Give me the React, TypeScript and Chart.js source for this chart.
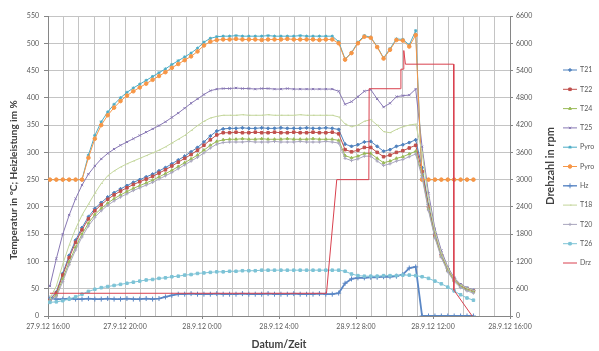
import React, { useEffect, useRef } from 'react';
import { Chart, registerables } from 'chart.js';
import { drawPoint } from 'chart.js/helpers';

Chart.register(...registerables);

// x axis: minutes after 27.9.12 16:00
const X_LABELS = ['27.9.12 16:00', '27.9.12 20:00', '28.9.12 0:00', '28.9.12 4:00', '28.9.12 8:00', '28.9.12 12:00', '28.9.12 16:00'];
const SAMPLE_START_MIN = 6;
const SAMPLE_STEP_MIN = 20;

const T21 = [31, 44, 78, 111, 139, 162, 182, 197, 208, 218, 226,
  233, 239, 245, 250, 255, 260, 266, 272, 279, 286,
  293, 301, 309, 319, 330, 339, 343, 344, 344, 345,
  344, 344, 345, 344, 344, 345, 344, 344, 344, 345,
  344, 344, 345, 344,
  342, 315, 311, 314, 319, 320, 311, 302, 305, 311, 314, 318, 323,
  272, 204, 151, 113, 87, 69, 57, 51, 47];
const T22 = [30, 42, 75, 107, 135, 158, 178, 193, 204, 214, 222,
  229, 235, 241, 246, 251, 256, 262, 268, 275, 282,
  289, 296, 304, 313, 323, 332, 336, 336, 337, 336,
  336, 337, 336, 336, 337, 336, 336, 337, 336, 336,
  337, 336, 336, 337,
  334, 305, 301, 304, 309, 309, 300, 292, 295, 300, 303, 308, 313,
  265, 200, 148, 111, 85, 67, 56, 50, 46];
const T24 = [29, 38, 68, 99, 126, 150, 170, 186, 197, 207, 215,
  222, 228, 234, 239, 244, 249, 255, 261, 267, 274,
  281, 288, 295, 304, 313, 320, 323, 324, 324, 325,
  324, 324, 325, 324, 324, 324, 325, 324, 324, 324,
  325, 324, 324, 324,
  322, 294, 290, 293, 298, 298, 289, 281, 284, 289, 292, 297, 302,
  258, 196, 145, 109, 83, 65, 54, 48, 44];
const T25 = [55, 105, 150, 185, 215, 240, 260, 275, 288, 298, 306,
  313, 319, 325, 331, 337, 343, 349, 356, 364, 372,
  381, 390, 398, 406, 413, 416, 417, 417, 418, 417,
  417, 416, 417, 417, 416, 416, 417, 416, 416, 416,
  416, 416, 416, 416,
  412, 388, 393, 402, 412, 415, 398, 383, 390, 402, 404, 405, 416,
  310, 225, 160, 120, 90, 70, 58, 52, 48];
const PYRO_TEAL = [250, 250, 250, 250, 250, 250,
  295, 331, 356, 374, 388,
  400, 410, 418, 425, 432, 439, 446, 453, 461, 468,
  475, 482, 491, 502, 509, 512, 513, 513, 514, 513,
  513, 513, 513, 514, 513, 513, 513, 513, 514, 513,
  513, 513, 513, 513,
  503, 471, 483, 502, 514, 511, 494, 473, 490, 508, 507, 497, 523,
  250, 250, 250, 250, 250, 250, 250, 250, 250];
const PYRO_ORANGE = [250, 250, 250, 250, 250, 250,
  290, 325, 350, 368, 382,
  394, 404, 412, 419, 426, 433, 440, 447, 455, 462,
  469, 476, 485, 496, 503, 506, 507, 507, 508, 507,
  507, 507, 506, 507, 507, 507, 508, 507, 507, 507,
  507, 506, 507, 507,
  500, 470, 482, 500, 512, 510, 493, 472, 488, 506, 505, 494, 515,
  250, 250, 250, 250, 250, 250, 250, 250, 250];
const HZ = [33, 31, 31, 32, 31, 31, 32, 31, 31, 32, 31, 31, 32, 31, 31, 32, 31, 32,
  35, 38, 40, 40, 41, 40, 40, 40, 41, 40, 40, 40, 41,
  40, 40, 40, 41, 40, 40, 40, 41, 40, 40, 40, 41, 40, 40,
  42, 60, 68, 70, 70, 71, 71, 72, 72, 73, 76, 88, 90,
  0, 0, 0, 0, 0, 0, 0, 0, 0];
const T18 = [32, 55, 95, 130, 160, 185, 205, 225, 243, 257, 266,
  273, 279, 284, 289, 294, 299, 304, 310, 317, 324,
  331, 340, 349, 357, 363, 366, 368, 368, 368, 369,
  368, 368, 368, 369, 368, 368, 368, 368, 369, 368,
  368, 368, 368, 368,
  365, 352, 347, 350, 357, 360, 350, 338, 336, 342, 347, 350, 352,
  300, 215, 155, 115, 88, 68, 57, 51, 47];
const T20 = [28, 35, 63, 94, 121, 145, 165, 181, 193, 203, 211,
  218, 224, 230, 235, 240, 245, 251, 257, 263, 270,
  277, 284, 291, 299, 308, 315, 318, 319, 319, 319,
  320, 319, 319, 319, 320, 319, 319, 319, 320, 319,
  319, 319, 320, 319,
  317, 289, 285, 288, 293, 293, 284, 276, 279, 284, 287, 292, 297,
  254, 193, 143, 107, 81, 63, 52, 46, 42];
const T26 = [25, 26, 28, 31, 35, 40, 45, 49, 52, 54, 56,
  58, 60, 62, 64, 66, 67, 69, 70, 72, 73,
  75, 76, 78, 79, 80, 81, 81, 82, 82, 83,
  83, 83, 84, 84, 84, 84, 84, 84, 84, 84,
  84, 84, 84, 84,
  84, 82, 77, 74, 73, 73, 73, 74, 74, 74, 75, 75, 74,
  72, 69, 64, 59, 53, 46, 39, 33, 29];

// Drehzahl (rpm), own time stamps (minutes after 27.9.12 16:00)
const DRZ_MIN = [6, 868, 900, 1000, 1001, 1098, 1100, 1107, 1109, 1114, 1264, 1265, 1322];
const DRZ_RPM = [500, 500, 3000, 3000, 5000, 5000, 5430, 5430, 5840, 5540, 5540, 570, 0];

const LEFT_TITLE = 'Temperatur in °C; Heizleistung im %';
const RIGHT_TITLE = 'Drehzahl in rpm';
const LEGEND_FONT = '7px Lato';

const legendPlugin = {
  id: 'excelLegend',
  afterDraw(chart: any) {
    const ctx = chart.ctx as CanvasRenderingContext2D;
    const area = chart.chartArea;
    ctx.save();
    chart.data.datasets.forEach((ds: any, i: number) => {
      const y = 70 + i * 19.3;
      ctx.strokeStyle = ds.borderColor;
      ctx.lineWidth = Math.min(ds.borderWidth, 1.4);
      ctx.beginPath();
      ctx.moveTo(563, y);
      ctx.lineTo(577, y);
      ctx.stroke();
      if (ds.pointRadius > 0) {
        ctx.fillStyle = ds.pointBackgroundColor;
        ctx.strokeStyle = ds.pointBorderColor;
        ctx.lineWidth = 1;
        drawPoint(ctx, { pointStyle: ds.pointStyle, radius: ds.pointRadius, rotation: 0, borderWidth: 1 } as any, 570, y);
      }
      ctx.fillStyle = '#595959';
      ctx.font = LEGEND_FONT;
      ctx.textBaseline = 'middle';
      ctx.textAlign = 'left';
      ctx.fillText(ds.label, 580, y);
    });
    ctx.fillStyle = '#404040';
    ctx.textAlign = 'center';
    ctx.textBaseline = 'middle';
    // left axis title
    ctx.save();
    ctx.translate(14, 180);
    ctx.rotate(-Math.PI / 2);
    ctx.font = 'bold 10px Lato';
    ctx.fillText(LEFT_TITLE, 0, 0);
    ctx.restore();
    // right axis title
    ctx.translate(550, (area.top + area.bottom) / 2);
    ctx.rotate(-Math.PI / 2);
    ctx.font = 'bold 11px Lato';
    ctx.fillText(RIGHT_TITLE, 0, 0);
    ctx.restore();
  },
};

export default function App() {
  const ref = useRef<HTMLCanvasElement>(null);
  useEffect(() => {
    if (!ref.current) return;
    const times = T21.map((_, i) => SAMPLE_START_MIN + i * SAMPLE_STEP_MIN);
    const xy = (arr: number[]) => arr.map((v, i) => ({ x: times[i], y: v }));
    const series = [
      { label: 'T21', data: xy(T21), color: '#4F81BD', style: 'rectRot', r: 1.6, w: 1 },
      { label: 'T22', data: xy(T22), color: '#C0504D', style: 'rect', r: 1.8, w: 1 },
      { label: 'T24', data: xy(T24), color: '#9BBB59', style: 'triangle', r: 1.6, w: 1 },
      { label: 'T25', data: xy(T25), color: '#8878B4', style: 'crossRot', r: 1.6, w: 1 },
      { label: 'Pyro', data: xy(PYRO_TEAL), color: '#4BACC6', style: 'star', r: 1.6, w: 1 },
      { label: 'Pyro', data: xy(PYRO_ORANGE), color: '#F79646', style: 'circle', r: 1.8, w: 1 },
      { label: 'Hz', data: xy(HZ), color: '#5B87C5', style: 'cross', r: 2.5, w: 1.8 },
      { label: 'T18', data: xy(T18), color: '#C3D69B', style: 'dash', r: 1.6, w: 1 },
      { label: 'T20', data: xy(T20), color: '#A9A6BE', style: 'cross', r: 1.6, w: 1 },
      { label: 'T26', data: xy(T26), color: '#7DC3D6', style: 'rect', r: 1.8, w: 1 },
      { label: 'Drz', data: DRZ_MIN.map((m, i) => ({ x: m, y: DRZ_RPM[i] })), color: '#D9414E', style: 'circle', r: 0, w: 1, axis: 'y2' },
    ];
    const n = series.length;
    const chart = new Chart(ref.current, {
      type: 'line',
      data: {
        datasets: series.map((s, i) => ({
          label: s.label,
          data: s.data,
          borderColor: s.color,
          backgroundColor: s.color,
          pointBackgroundColor: s.color,
          pointBorderColor: s.color,
          pointStyle: s.style as any,
          pointRadius: s.r,
          pointBorderWidth: 1,
          borderWidth: s.w,
          tension: 0,
          fill: false,
          yAxisID: (s as any).axis || 'y',
          order: n - i,
        })),
      },
      options: {
        responsive: true,
        maintainAspectRatio: false,
        animation: false,
        events: [],
        layout: { padding: { top: 16, right: 39, left: 0, bottom: 0 } },
        plugins: { legend: { display: false }, tooltip: { enabled: false } },
        scales: {
          x: {
            type: 'linear',
            min: 0,
            max: 1440,
            afterFit: (s: any) => { s.height = 35; },
            ticks: {
              stepSize: 48,
              autoSkip: false,
              maxRotation: 0,
              minRotation: 0,
              padding: 4,
              color: '#595959',
              font: { family: 'Lato', size: 7 },
              callback: (v: any) => (Math.round(v) % 240 === 0 ? X_LABELS[Math.round(v) / 240] : ''),
            },
            grid: {
              color: '#C4C4C4',
              lineWidth: 1,
              tickLength: 3,
              tickColor: (c: any) => (c.tick && Math.round(c.tick.value) % 240 === 0 ? '#868686' : 'rgba(0,0,0,0)'),
            },
            border: { color: '#868686' },
            title: {
              display: true,
              text: 'Datum/Zeit',
              color: '#404040',
              font: { family: 'Lato', size: 10.5, weight: 'bold' },
              padding: { top: 0, bottom: 0 },
            },
          },
          y: {
            position: 'left',
            min: 0,
            max: 550,
            afterFit: (s: any) => { s.width = 48; },
            ticks: { stepSize: 50, padding: 5, color: '#595959', font: { family: 'Lato', size: 7 }, callback: (v: any) => String(v) },
            grid: { color: '#C4C4C4', lineWidth: 1, tickLength: 4, tickColor: '#868686' },
            border: { color: '#868686' },
          },
          y2: {
            position: 'right',
            min: 0,
            max: 6600,
            afterFit: (s: any) => { s.width = 50; },
            ticks: { stepSize: 600, padding: 3, color: '#595959', font: { family: 'Lato', size: 7 }, callback: (v: any) => String(v) },
            grid: { drawOnChartArea: false, tickLength: 3, tickColor: '#868686' },
            border: { color: '#868686' },
          },
        },
      } as any,
      plugins: [legendPlugin],
    });
    return () => chart.destroy();
  }, []);
  return (
    <div style={{ position: 'fixed', left: 0, top: 0, width: 599, height: 351, background: '#ffffff' }}>
      <canvas ref={ref} />
    </div>
  );
}
